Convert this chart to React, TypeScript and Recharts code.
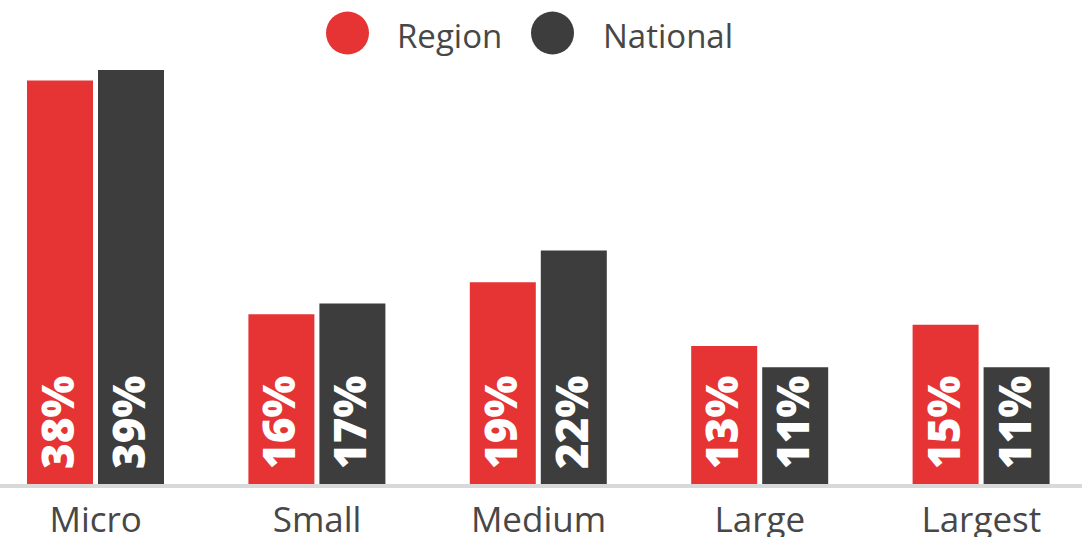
import { Bar, BarChart, LabelList, Legend, XAxis, YAxis } from "recharts";

const categories = ["Micro", "Small", "Medium", "Large", "Largest"];
const regionValues = [38, 16, 19, 13, 15];
const nationalValues = [39, 17, 22, 11, 11];

const RED = "#e63333";
const DARK = "#3d3d3d";
const TEXT = "#474747";
const FONT = "'Open Sans', sans-serif";

// chart is a bit wider than the page and shifted left, like the original crop
const SHIFT = 15;

const data = categories.map((name, i) => ({
  name,
  region: regionValues[i],
  national: nationalValues[i],
}));

function ValueLabel(props: any) {
  const { x, y, width, height, value } = props;
  const cx = x + width / 2 - 3;
  const cy = y + height - 15;
  return (
    <text
      x={cx}
      y={cy}
      transform={`rotate(-90, ${cx}, ${cy})`}
      textAnchor="start"
      dominantBaseline="central"
      fill="#ffffff"
      fontFamily={FONT}
      fontWeight={800}
      fontSize={44}
    >
      {`${value}%`}
    </text>
  );
}

function CategoryTick(props: any) {
  const { x, payload } = props;
  return (
    <text
      x={x}
      y={532}
      textAnchor="middle"
      fill={TEXT}
      fontFamily={FONT}
      fontSize={35}
    >
      {payload.value}
    </text>
  );
}

function TopLegend() {
  const items = [
    { label: "Region", color: RED, cx: 347.5, tx: 397 },
    { label: "National", color: DARK, cx: 552.5, tx: 603 },
  ];
  return (
    <svg width={1107} height={70} style={{ display: "block" }}>
      {items.map((it) => (
        <g key={it.label}>
          <circle cx={it.cx + SHIFT} cy={33} r={21.5} fill={it.color} />
          <text
            x={it.tx + SHIFT}
            y={47.5}
            fill={TEXT}
            fontFamily={FONT}
            fontSize={33}
          >
            {it.label}
          </text>
        </g>
      ))}
    </svg>
  );
}

export default function App() {
  return (
    <div
      style={{
        position: "fixed",
        left: 0,
        top: 0,
        width: 1082,
        height: 537,
        overflow: "hidden",
        background: "#ffffff",
      }}
    >
      <div style={{ position: "absolute", left: -SHIFT, top: 0 }}>
        <BarChart
          width={1107}
          height={537}
          data={data}
          margin={{ top: 0, right: 0, bottom: 0, left: 0 }}
          barCategoryGap={42}
          barGap={5}
        >
          <Legend
            verticalAlign="top"
            align="left"
            content={<TopLegend />}
            wrapperStyle={{ left: 0, top: 0, width: 1107, height: 70 }}
          />
          <YAxis hide domain={[0, 39]} />
          <XAxis
            dataKey="name"
            height={53}
            interval={0}
            tickLine={false}
            axisLine={{ stroke: "#d9d9d9", strokeWidth: 4, transform: "translate(0,2)" }}
            tick={<CategoryTick />}
          />
          <Bar dataKey="region" name="Region" fill={RED} barSize={66} isAnimationActive={false}>
            <LabelList dataKey="region" content={<ValueLabel />} />
          </Bar>
          <Bar dataKey="national" name="National" fill={DARK} barSize={66} isAnimationActive={false}>
            <LabelList dataKey="national" content={<ValueLabel />} />
          </Bar>
        </BarChart>
      </div>
    </div>
  );
}
